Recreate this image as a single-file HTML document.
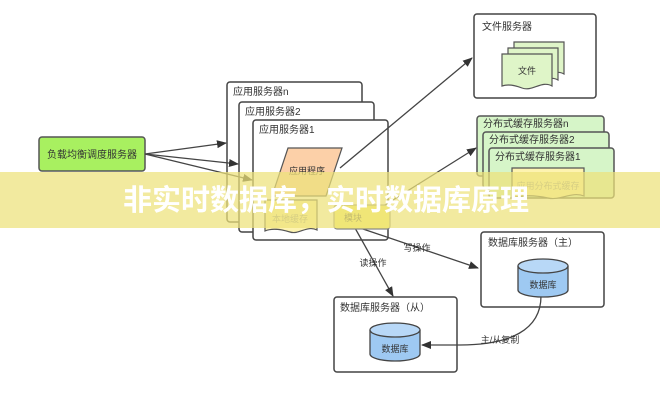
<!DOCTYPE html>
<html><head><meta charset="utf-8"><style>
html,body{margin:0;padding:0;background:#fff;}
svg{display:block;font-family:"Liberation Sans","Noto Sans CJK SC",sans-serif;}
</style></head><body>
<svg width="660" height="400" viewBox="0 0 660 400" xmlns="http://www.w3.org/2000/svg">
<defs>
<marker id="a" markerWidth="10" markerHeight="8" refX="9" refY="4" orient="auto" markerUnits="userSpaceOnUse"><path d="M0,0 L10,4 L0,8 Z" fill="#333"/></marker>
</defs>
<g stroke="#444" stroke-width="1.5" fill="#fff">
<!-- file server -->
<rect x="474" y="14" width="122" height="84" rx="3"/>
<!-- app servers -->
<rect x="227" y="82" width="135" height="140" rx="3"/>
<rect x="239" y="102" width="135" height="130" rx="3"/>
<rect x="253" y="120" width="135" height="120" rx="3"/>
<!-- cache servers -->
<rect x="477" y="116" width="127" height="60" rx="3" fill="#d6f5c8" stroke="#555"/>
<rect x="483" y="132" width="126" height="56" rx="3" fill="#d6f5c8" stroke="#555"/>
<rect x="489" y="148" width="125" height="50" rx="3" fill="#d6f5c8" stroke="#555"/>
<!-- db -->
<rect x="481" y="232" width="123" height="75" rx="3"/>
<rect x="334" y="297" width="123" height="75" rx="3"/>
</g>
<!-- load balancer -->
<rect x="39" y="137" width="106" height="34" rx="3" fill="#a8f060" stroke="#555" stroke-width="1.5"/>
<text x="92" y="158" font-size="10" text-anchor="middle" fill="#333">负载均衡调度服务器</text>
<!-- arrows LB -->
<g stroke="#444" stroke-width="1.3" fill="none" marker-end="url(#a)">
<line x1="145" y1="154" x2="226" y2="143"/>
<line x1="145" y1="154" x2="238" y2="164"/>
<line x1="145" y1="154" x2="252" y2="180"/>
<line x1="340" y1="168" x2="472" y2="58"/>
<line x1="385" y1="205" x2="476" y2="148"/>
<line x1="360" y1="228" x2="478" y2="268"/>
<line x1="355" y1="228" x2="393" y2="296"/>
<path d="M541 296 C541 330 510 345 460 345 L422 345"/>
</g>
<!-- file docs -->
<g stroke="#555" stroke-width="1.2" fill="#dff5c8">
<path d="M514 42 h50 v32 c-10 -6 -20 6 -30 2 c-8 -3 -14 -4 -20 -2 Z"/>
<path d="M508 48 h50 v32 c-10 -6 -20 6 -30 2 c-8 -3 -14 -4 -20 -2 Z"/>
<path d="M502 54 h50 v32 c-10 -6 -20 6 -30 2 c-8 -3 -14 -4 -20 -2 Z"/>
</g>
<text x="482" y="30" font-size="10" fill="#333">文件服务器</text>
<text x="527" y="74" font-size="9" text-anchor="middle" fill="#333">文件</text>
<text x="233" y="95" font-size="10" fill="#333">应用服务器n</text>
<text x="245" y="115" font-size="10" fill="#333">应用服务器2</text>
<text x="259" y="133" font-size="10" fill="#333">应用服务器1</text>
<!-- app internals -->
<polygon points="288,148 342,148 326,196 272,196" fill="#fcd0a8" stroke="#555" stroke-width="1.2"/>
<text x="307" y="174" font-size="9" text-anchor="middle" fill="#333">应用程序</text>
<path d="M265 200 h52 v30 c-10 -5 -18 5 -27 2 c-10 -3 -18 -4 -25 -1 Z" fill="#fdf3b0" stroke="#555" stroke-width="1.2"/>
<text x="290" y="222" font-size="9" text-anchor="middle" fill="#999">本地缓存</text>
<rect x="334" y="205" width="56" height="24" rx="3" fill="#f7f070" stroke="#888" stroke-width="1.2"/>
<text x="353" y="221" font-size="9" text-anchor="middle" fill="#555">模块</text>
<text x="483" y="127" font-size="10" fill="#333">分布式缓存服务器n</text>
<text x="489" y="143" font-size="10" fill="#333">分布式缓存服务器2</text>
<text x="495" y="160" font-size="10" fill="#333">分布式缓存服务器1</text>
<path d="M512 168 h72 v28 c-12 -5 -24 5 -36 2 c-14 -3 -24 -3 -36 0 Z" fill="#fdf3b0" stroke="#555" stroke-width="1.2"/>
<text x="548" y="189" font-size="9" text-anchor="middle" fill="#999">应用分布式缓存</text>
<!-- db cylinders -->
<g stroke="#444" stroke-width="1.3">
<path d="M518 266 v24 a25 7 0 0 0 50 0 v-24" fill="#9ec9f2"/>
<ellipse cx="543" cy="266" rx="25" ry="7" fill="#b8d8f7"/>
<path d="M370 330 v24 a25 7 0 0 0 50 0 v-24" fill="#9ec9f2"/>
<ellipse cx="395" cy="330" rx="25" ry="7" fill="#b8d8f7"/>
</g>
<text x="543" y="288" font-size="9" text-anchor="middle" fill="#333">数据库</text>
<text x="395" y="352" font-size="9" text-anchor="middle" fill="#333">数据库</text>
<text x="488" y="246" font-size="10" fill="#333">数据库服务器（主）</text>
<text x="340" y="311" font-size="10" fill="#333">数据库服务器（从）</text>
<text x="417" y="251" font-size="9" text-anchor="middle" fill="#333">写操作</text>
<text x="373" y="266" font-size="9" text-anchor="middle" fill="#333">读操作</text>
<text x="500" y="343" font-size="9" text-anchor="middle" fill="#333">主/从复制</text>
<!-- banner -->
<rect x="0" y="172" width="660" height="56" fill="#ede27a" fill-opacity="0.72"/>
<text x="326" y="210" font-size="29" font-weight="bold" text-anchor="middle" fill="#fff">非实时数据库，实时数据库原理</text>
</svg>
</body></html>
